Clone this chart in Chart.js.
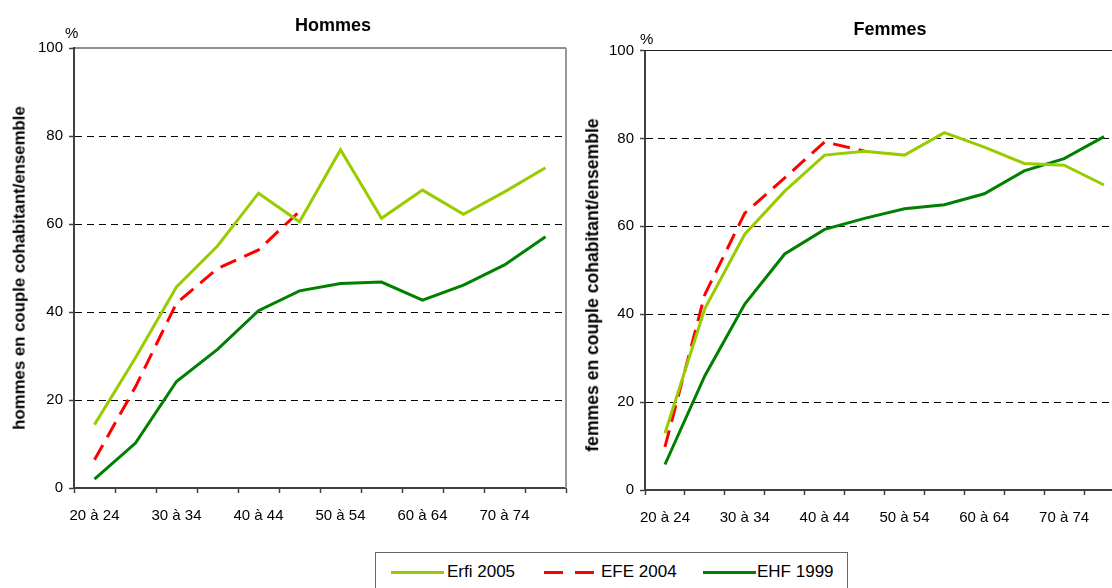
<!DOCTYPE html>
<html>
<head>
<meta charset="utf-8">
<script src="https://cdn.jsdelivr.net/npm/chart.js@4.4.1/dist/chart.umd.min.js"></script>
<style>
  body { margin: 0; background: #fff; font-family: "Liberation Sans", Arial, sans-serif; }
  #wrap { position: relative; width: 1112px; height: 588px; overflow: hidden; background: #fff; }
  canvas { position: absolute; top: 0; }
  #cHommes { left: 0; }
  #cFemmes { left: 570px; }
  .ttl { position: absolute; font-weight: bold; font-size: 18px; line-height: 18px; transform: translateX(-50%); white-space: nowrap; }
  .pct { position: absolute; font-size: 15px; line-height: 15px; }
  .ytl { position: absolute; font-weight: bold; line-height: 1; white-space: nowrap; transform: translate(-50%, -50%) rotate(-90deg); }
  #legend { position: absolute; left: 375px; top: 552px; width: 473px; height: 46px; border: 1px solid #666; box-sizing: border-box; font-size: 17px; }
  #legend .sw { position: absolute; top: 18px; height: 3px; }
  #legend .tx { position: absolute; top: 9px; line-height: 20px; white-space: nowrap; }
</style>
</head>
<body>
<div id="wrap">
  <canvas id="cHommes" width="572" height="540"></canvas>
  <canvas id="cFemmes" width="560" height="540"></canvas>
  <div class="ttl" style="left:333px;top:16px">Hommes</div>
  <div class="ttl" style="left:890px;top:20px">Femmes</div>
  <div class="pct" style="left:65px;top:25px">%</div>
  <div class="pct" style="left:640px;top:31px">%</div>
  <div class="ytl" style="left:20px;top:268px;font-size:16.8px">hommes en couple cohabitant/ensemble</div>
  <div class="ytl" style="left:593px;top:285px;font-size:17.6px">femmes en couple cohabitant/ensemble</div>
  <div id="legend">
    <div class="sw" style="left:15px;width:53px;background:#99cc00"></div>
    <div class="tx" style="left:71px">Erfi 2005</div>
    <div class="sw" style="left:168px;width:19px;background:#ff0000"></div>
    <div class="sw" style="left:199px;width:19px;background:#ff0000"></div>
    <div class="tx" style="left:225px">EFE 2004</div>
    <div class="sw" style="left:327px;width:53px;background:#008000"></div>
    <div class="tx" style="left:381px">EHF 1999</div>
  </div>
</div>
<script>
const ageGroups = ["20 à 24", "25 à 29", "30 à 34", "35 à 39", "40 à 44", "45 à 49",
                   "50 à 54", "55 à 59", "60 à 64", "65 à 69", "70 à 74", "75 à 79"];

const hommesErfi2005 = [14.4, 29.6, 45.7, 55.0, 67.0, 60.5, 76.9, 61.3, 67.7, 62.2, 67.3, 72.8];
const hommesEfe2004  = [6.4, 23.0, 42.0, 49.9, 54.1, 62.9, null, null, null, null, null, null];
const hommesEhf1999  = [2.0, 10.2, 24.2, 31.5, 40.3, 44.8, 46.5, 46.8, 42.7, 46.1, 50.7, 57.1];

const femmesErfi2005 = [12.9, 41.3, 58.2, 68.0, 76.2, 77.1, 76.2, 81.3, 78.0, 74.3, 73.9, 69.4];
const femmesEfe2004  = [9.8, 44.5, 63.0, 71.0, 79.2, 77.1, null, null, null, null, null, null];
const femmesEhf1999  = [5.8, 26.0, 42.3, 53.7, 59.3, 61.8, 64.0, 64.9, 67.4, 72.6, 75.4, 80.4];

const yTicks = [0, 20, 40, 60, 80, 100];

const FONT = "'Liberation Sans', Arial, sans-serif";

// plot border: solid line on top, grey line on the right
const plotBorder = {
  id: "plotBorder",
  afterDatasetsDraw(chart) {
    const { ctx, chartArea: a } = chart;
    ctx.save();
    ctx.strokeStyle = "#222";
    ctx.lineWidth = 1.2;
    ctx.beginPath();
    ctx.moveTo(a.left, a.top);
    ctx.lineTo(a.right, a.top);
    ctx.stroke();
    ctx.strokeStyle = "#999";
    ctx.lineWidth = 2;
    ctx.beginPath();
    ctx.moveTo(a.right, a.top);
    ctx.lineTo(a.right, a.bottom);
    ctx.stroke();
    ctx.restore();
  }
};

function makeChart(id, erfi, efe, ehf, cfg) {
  return new Chart(document.getElementById(id), {
    type: "line",
    data: {
      labels: ageGroups,
      datasets: [
        { label: "Erfi 2005", data: erfi, borderColor: "#99cc00", borderWidth: 3 },
        { label: "EFE 2004", data: efe, borderColor: "#ff0000", borderWidth: 3, borderDash: [17, 9] },
        { label: "EHF 1999", data: ehf, borderColor: "#008000", borderWidth: 3 }
      ]
    },
    options: {
      responsive: false,
      animation: false,
      elements: { point: { radius: 0 }, line: { tension: 0 } },
      layout: { padding: { top: cfg.top, right: cfg.right, left: 0, bottom: 0 } },
      plugins: { legend: { display: false }, tooltip: { enabled: false } },
      scales: {
        x: {
          offset: true,
          afterFit(s) { s.height = cfg.xHeight; },
          grid: { offset: true, drawOnChartArea: false, drawTicks: true, tickLength: 5, tickColor: "#404040", tickWidth: 1.5 },
          border: { display: true, color: "#404040", width: 2 },
          ticks: {
            autoSkip: false, maxRotation: 0, padding: 14, color: "#000",
            font: { family: FONT, size: 15 },
            callback(v, i) { return i % 2 === 0 ? ageGroups[i] : ""; }
          }
        },
        y: {
          min: 0, max: 100,
          afterFit(s) { s.width = cfg.yWidth; },
          afterBuildTicks(s) { s.ticks = yTicks.map(v => ({ value: v })); },
          grid: {
            color: c => (c.tick && (c.tick.value === 0 || c.tick.value === 100)) ? "rgba(0,0,0,0)" : "#000",
            lineWidth: 1, tickLength: 5, tickColor: "#404040", tickWidth: 1.5, tickBorderDash: []
          },
          border: { display: true, color: "#404040", width: 2, dash: [7, 5] },
          ticks: { padding: 6, color: "#000", font: { family: FONT, size: 15 } }
        }
      }
    },
    plugins: [plotBorder]
  });
}

makeChart("cHommes", hommesErfi2005, hommesEfe2004, hommesEhf1999,
  { top: 48, right: 6, xHeight: 52, yWidth: 74 });

makeChart("cFemmes", femmesErfi2005, femmesEfe2004, femmesEhf1999,
  { top: 50.5, right: 6, xHeight: 50, yWidth: 75 });
</script>
</body>
</html>
